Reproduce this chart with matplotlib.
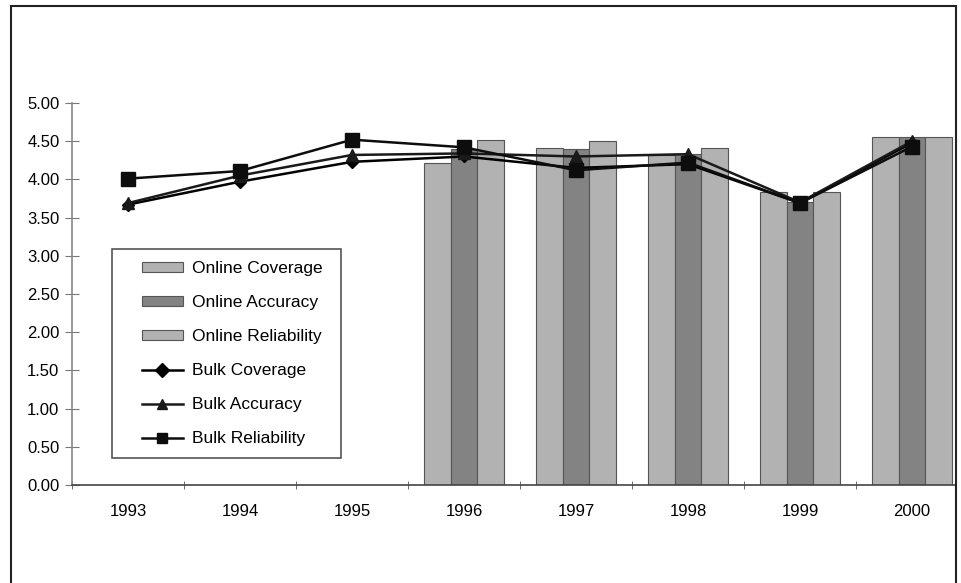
import numpy as np
import matplotlib
matplotlib.use('Agg')
from matplotlib import pyplot as plt
from matplotlib.patches import Rectangle

plt.rcParams['font.family'] = ['Liberation Sans', 'DejaVu Sans']

years = ['1993', '1994', '1995', '1996', '1997', '1998', '1999', '2000']

# online survey only from 1996 on
online_years = ['1996', '1997', '1998', '1999', '2000']
online_coverage = [4.21, 4.41, 4.32, 3.84, 4.55]
online_accuracy = [4.40, 4.40, 4.33, 3.70, 4.55]
online_reliability = [4.51, 4.50, 4.41, 3.84, 4.55]

bulk_coverage = [3.67, 3.97, 4.23, 4.30, 4.15, 4.20, 3.69, 4.48]
bulk_accuracy = [3.69, 4.05, 4.32, 4.34, 4.30, 4.33, 3.70, 4.50]
bulk_reliability = [4.01, 4.11, 4.52, 4.42, 4.12, 4.22, 3.69, 4.43]

W, H = 961, 583
fig = plt.figure(figsize=(W / 100, H / 100), dpi=100)
# the original is cropped at the right, axis stops at the frame
ax = fig.add_axes([72 / W, (H - 485) / H, 884 / W, 382 / H])

x = np.arange(len(years))
xo = np.array([years.index(y) for y in online_years])
bw = 0.24
light = '#b2b2b2'
dark = '#838383'
edge = '#555555'

b1 = ax.bar(xo - bw, online_coverage, bw, color=light, edgecolor=edge, linewidth=0.8,
            label='Online Coverage')
b2 = ax.bar(xo, online_accuracy, bw, color=dark, edgecolor=edge, linewidth=0.8,
            label='Online Accuracy')
b3 = ax.bar(xo + bw, online_reliability, bw, color=light, edgecolor=edge, linewidth=0.8,
            label='Online Reliability')

l1, = ax.plot(x, bulk_coverage, color='black', lw=1.8, marker='D', ms=6,
              label='Bulk Coverage')
l2, = ax.plot(x, bulk_accuracy, color='#1a1a1a', lw=1.8, marker='^', ms=8,
              label='Bulk Accuracy')
l3, = ax.plot(x, bulk_reliability, color='#0d0d0d', lw=1.8, marker='s', ms=10,
              label='Bulk Reliability')

ax.set_xlim(-0.5, -0.5 + 884 / 112)
ax.set_ylim(0, 5)
ax.set_yticks(np.arange(0, 5.01, 0.5))
ax.set_yticklabels(['%.2f' % v for v in np.arange(0, 5.01, 0.5)])
ax.set_xticks(x)
ax.set_xticklabels(years)
ax.set_xticks(np.arange(-0.5, 7.4, 1), minor=True)
ax.tick_params(axis='x', which='major', length=0, pad=14, labelsize=12)
ax.tick_params(axis='x', which='minor', length=6, direction='inout', color='#555555')
ax.tick_params(axis='y', length=10, direction='inout', color='#777777', labelsize=12, pad=4)

for s in ['top', 'right']:
    ax.spines[s].set_visible(False)
ax.spines['left'].set_color('#888888')
ax.spines['left'].set_linewidth(1.2)
ax.spines['bottom'].set_color('#444444')
ax.spines['bottom'].set_linewidth(1.2)

# legend frame drawn separately so the padding matches
ax.add_patch(Rectangle((41 / 896, 27 / 382), 232 / 896, 209 / 382,
                       transform=ax.transAxes, fill=True, facecolor='white',
                       edgecolor='#555555', lw=1.2, zorder=4))
leg = ax.legend(handles=[b1, b2, b3, l1, l2, l3], loc='upper left',
                bbox_to_anchor=(71 / 896, 224 / 382), fontsize=12.5, frameon=False,
                labelspacing=1.1, handlelength=2.35, handleheight=0.5,
                borderpad=0, borderaxespad=0, handletextpad=0.55)
leg.set_zorder(5)
for h in leg.legend_handles[3:]:
    h.set_markersize(7)

# outer frame of the original figure
fig.add_artist(Rectangle((11 / W, -0.1), (956 - 11) / W, 1.1 - 6 / H,
                         transform=fig.transFigure, fill=False,
                         edgecolor='#222222', lw=1.5))

fig.savefig('out.png', dpi=100)
